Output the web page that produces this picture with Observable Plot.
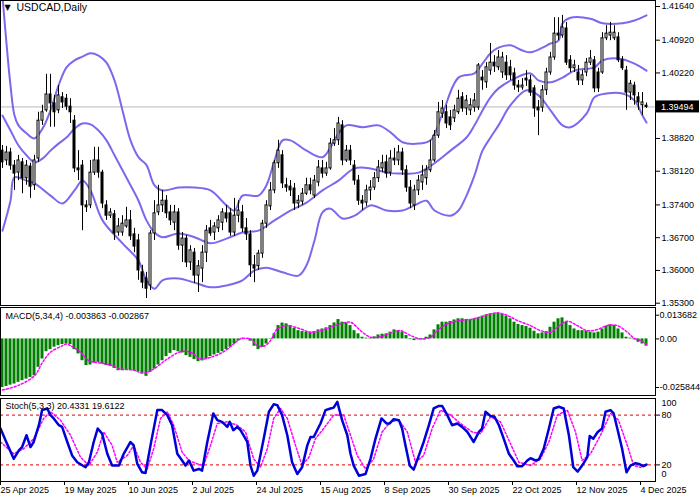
<!DOCTYPE html>
<html><head><meta charset="utf-8">
<script src="https://cdn.jsdelivr.net/npm/d3@7"></script>
<script src="https://cdn.jsdelivr.net/npm/@observablehq/plot@0.6"></script>
<style>
body{margin:0;background:#fff;}
#chart{position:relative;width:700px;height:500px;overflow:hidden;background:#fff;}
#chart svg{position:absolute;left:0;}
</style></head><body><div id="chart"></div>
<script>
// ---- price candles (daily, bar index 0 = 25 Apr 2025) ----
const open = [1.3856,1.3835,1.3852,1.3824,1.3809,1.3831,1.3797,1.3822,1.3782,1.3839,
1.3920,1.3942,1.3976,1.3957,1.3942,1.3970,1.3967,1.3950,1.3920,1.3818,
1.3824,1.3739,1.3739,1.3809,1.3835,1.3809,1.3739,1.3717,1.3720,1.3681,
1.3681,1.3694,1.3707,1.3677,1.3664,1.3596,1.3583,1.3568,1.3679,1.3724,
1.3739,1.3749,1.3724,1.3702,1.3724,1.3653,1.3668,1.3617,1.3638,1.3589,
1.3604,1.3638,1.3690,1.3681,1.3690,1.3702,1.3722,1.3722,1.3681,1.3717,
1.3724,1.3690,1.3677,1.3611,1.3609,1.3636,1.3700,1.3737,1.3771,1.3829,
1.3846,1.3782,1.3779,1.3775,1.3743,1.3747,1.3764,1.3782,1.3760,1.3788,
1.3818,1.3807,1.3818,1.3871,1.3878,1.3910,1.3835,1.3856,1.3824,1.3792,
1.3749,1.3745,1.3771,1.3777,1.3797,1.3818,1.3831,1.3809,1.3839,1.3835,
1.3852,1.3814,1.3777,1.3739,1.3771,1.3788,1.3797,1.3814,1.3835,1.3888,
1.3935,1.3938,1.3927,1.3925,1.3938,1.3970,1.3946,1.3942,1.3948,1.3948,
1.4012,1.4002,1.4027,1.4044,1.4034,1.4023,1.4044,1.4034,1.4021,1.3995,
1.3991,1.4010,1.4006,1.3989,1.3948,1.3948,1.3985,1.4023,1.4055,1.4106,
1.4102,1.4117,1.4049,1.4032,1.4023,1.4006,1.4023,1.4044,1.4049,1.4023,
1.4023,1.4096,1.4102,1.4096,1.4098,1.4049,1.4027,1.3980,1.3995,1.3970,
1.3953,1.3952];
const high = [1.3867,1.3865,1.3861,1.3835,1.3846,1.3839,1.3835,1.3829,1.3846,1.3938,
1.3953,1.4019,1.4019,1.3974,1.3995,1.3980,1.3976,1.3967,1.3931,1.3856,
1.3835,1.3749,1.3835,1.3863,1.3863,1.3814,1.3749,1.3732,1.3728,1.3711,
1.3717,1.3735,1.3728,1.3690,1.3677,1.3611,1.3596,1.3685,1.3749,1.3782,
1.3771,1.3760,1.3739,1.3739,1.3732,1.3681,1.3675,1.3653,1.3647,1.3621,
1.3653,1.3696,1.3707,1.3702,1.3717,1.3732,1.3739,1.3732,1.3754,1.3749,
1.3739,1.3711,1.3685,1.3632,1.3643,1.3707,1.3749,1.3788,1.3835,1.3878,
1.3856,1.3797,1.3792,1.3786,1.3760,1.3775,1.3797,1.3797,1.3803,1.3835,
1.3835,1.3831,1.3882,1.3903,1.3927,1.3920,1.3867,1.3867,1.3835,1.3803,
1.3760,1.3782,1.3792,1.3809,1.3835,1.3846,1.3846,1.3856,1.3861,1.3867,
1.3861,1.3824,1.3792,1.3782,1.3803,1.3824,1.3824,1.3878,1.3899,1.3959,
1.3963,1.3953,1.3942,1.3953,1.3985,1.3980,1.3974,1.3967,1.3978,1.4042,
1.4027,1.4044,1.4085,1.4059,1.4070,1.4066,1.4059,1.4049,1.4032,1.4006,
1.4010,1.4027,1.4017,1.3995,1.3963,1.3995,1.4032,1.4066,1.4140,1.4140,
1.4145,1.4130,1.4059,1.4049,1.4038,1.4027,1.4053,1.4070,1.4057,1.4032,
1.4108,1.4123,1.4130,1.4123,1.4108,1.4057,1.4036,1.4006,1.4002,1.3980,
1.3980,1.3958];
const low = [1.3818,1.3824,1.3814,1.3771,1.3792,1.3764,1.3782,1.3754,1.3771,1.3831,
1.3910,1.3938,1.3906,1.3906,1.3935,1.3946,1.3942,1.3914,1.3809,1.3792,
1.3685,1.3724,1.3732,1.3803,1.3797,1.3732,1.3707,1.3711,1.3664,1.3673,
1.3673,1.3690,1.3664,1.3638,1.3579,1.3561,1.3540,1.3557,1.3664,1.3717,
1.3724,1.3711,1.3696,1.3685,1.3643,1.3617,1.3606,1.3600,1.3572,1.3553,
1.3574,1.3617,1.3673,1.3664,1.3681,1.3685,1.3702,1.3673,1.3673,1.3702,
1.3681,1.3664,1.3585,1.3574,1.3600,1.3626,1.3690,1.3728,1.3764,1.3818,
1.3775,1.3767,1.3758,1.3728,1.3732,1.3739,1.3760,1.3762,1.3754,1.3779,
1.3797,1.3801,1.3814,1.3865,1.3867,1.3824,1.3831,1.3824,1.3782,1.3739,
1.3728,1.3737,1.3749,1.3771,1.3788,1.3809,1.3797,1.3801,1.3824,1.3824,
1.3803,1.3767,1.3732,1.3728,1.3760,1.3771,1.3782,1.3809,1.3831,1.3882,
1.3925,1.3903,1.3899,1.3916,1.3933,1.3938,1.3931,1.3931,1.3938,1.3942,
1.3985,1.3989,1.4017,1.4023,1.4027,1.4010,1.4006,1.4006,1.3985,1.3980,
1.3985,1.3993,1.3972,1.3927,1.3888,1.3938,1.3974,1.4017,1.4049,1.4091,
1.4096,1.4038,1.4023,1.4023,1.3995,1.3995,1.4014,1.4038,1.3980,1.3980,
1.4019,1.4091,1.4091,1.4091,1.4044,1.4027,1.3942,1.3963,1.3953,1.3942,
1.3931,1.3946];
const close = [1.3831,1.3852,1.3824,1.3807,1.3835,1.3797,1.3824,1.3779,1.3835,1.3920,
1.3938,1.3976,1.3957,1.3938,1.3974,1.3959,1.3950,1.3938,1.3818,1.3814,
1.3739,1.3735,1.3809,1.3835,1.3809,1.3743,1.3717,1.3724,1.3679,1.3694,
1.3700,1.3707,1.3673,1.3651,1.3600,1.3574,1.3561,1.3679,1.3722,1.3739,
1.3749,1.3722,1.3707,1.3724,1.3653,1.3668,1.3617,1.3643,1.3589,1.3609,
1.3638,1.3685,1.3679,1.3694,1.3707,1.3724,1.3711,1.3681,1.3717,1.3728,
1.3690,1.3677,1.3611,1.3604,1.3636,1.3700,1.3739,1.3771,1.3829,1.3856,
1.3786,1.3777,1.3771,1.3743,1.3749,1.3764,1.3782,1.3771,1.3792,1.3820,
1.3807,1.3818,1.3871,1.3878,1.3914,1.3835,1.3856,1.3835,1.3792,1.3749,
1.3743,1.3771,1.3777,1.3797,1.3820,1.3829,1.3807,1.3839,1.3835,1.3852,
1.3814,1.3777,1.3743,1.3771,1.3792,1.3803,1.3814,1.3835,1.3888,1.3938,
1.3946,1.3914,1.3910,1.3942,1.3967,1.3946,1.3963,1.3953,1.3963,1.4038,
1.4006,1.4034,1.4044,1.4036,1.4055,1.4055,1.4017,1.4017,1.3995,1.3991,
1.3995,1.4006,1.3980,1.3946,1.3942,1.3985,1.4023,1.4055,1.4106,1.4102,
1.4119,1.4044,1.4032,1.4038,1.4006,1.4017,1.4044,1.4053,1.3989,1.3989,
1.4096,1.4106,1.4108,1.4108,1.4049,1.4032,1.3980,1.3999,1.3974,1.3959,
1.3959,1.39494];
const lastPrice = 1.39494;

// ---- Bollinger bands, read at sampled bars ----
const upperIdx = [0,1,2,3,4,6,8,10,12,14,16,18,20,22,24,26,28,30,32,34,36,38,40,44,48,52,56,58,60,64,66,68,70,72,76,80,82,84,86,90,94,97,100,104,107,110,114,118,120,122,124,127,130,132,135,137,139,140,142,147,150,155,158,161];
const upperVal = [1.4185,1.4085,1.3995,1.3931,1.3910,1.3893,1.3882,1.3903,1.3942,1.3995,1.4034,1.4049,1.4057,1.4064,1.4059,1.4044,1.4006,1.3942,1.3878,1.3842,1.3825,1.3782,1.3771,1.3777,1.3777,1.3771,1.3739,1.3728,1.3760,1.3760,1.3782,1.3835,1.3878,1.3878,1.3856,1.3842,1.3863,1.3893,1.3910,1.3906,1.3910,1.3895,1.3874,1.3871,1.3878,1.3935,1.4012,1.4021,1.4042,1.4064,1.4076,1.4081,1.4070,1.4066,1.4076,1.4085,1.4091,1.4128,1.4140,1.4138,1.4128,1.4128,1.4134,1.4145];
const midIdx = [0,2,4,6,8,10,12,14,16,18,20,22,24,26,28,30,32,34,36,38,40,44,48,52,56,60,64,68,72,76,80,84,88,92,96,100,104,108,112,116,118,120,122,124,128,132,134,137,140,143,148,150,154,158,161];
const midVal = [1.3931,1.3899,1.3867,1.3846,1.3831,1.3839,1.3856,1.3871,1.3884,1.3903,1.3914,1.3912,1.3899,1.3878,1.3846,1.3814,1.3782,1.3749,1.3707,1.3681,1.3671,1.3679,1.3671,1.3658,1.3668,1.3681,1.3685,1.3707,1.3728,1.3745,1.3771,1.3792,1.3818,1.3818,1.3809,1.3807,1.3809,1.3829,1.3856,1.3884,1.3910,1.3942,1.3970,1.3989,1.4010,1.4021,1.4006,1.4002,1.4012,1.4027,1.4034,1.4049,1.4053,1.4042,1.4027];
const lowerIdx = [0,2,3,6,8,12,15,18,20,22,25,30,34,36,38,40,44,48,52,56,60,63,66,70,74,76,78,80,82,85,88,92,96,100,103,106,108,112,114,116,118,120,122,124,127,131,134,137,140,142,146,148,151,155,158,160,161];
const lowerVal = [1.3685,1.3749,1.3799,1.3792,1.3786,1.3760,1.3743,1.3771,1.3792,1.3771,1.3707,1.3658,1.3621,1.3579,1.3561,1.3579,1.3583,1.3574,1.3564,1.3568,1.3579,1.3600,1.3606,1.3596,1.3589,1.3611,1.3664,1.3724,1.3732,1.3711,1.3717,1.3739,1.3728,1.3728,1.3739,1.3749,1.3728,1.3717,1.3728,1.3760,1.3803,1.3856,1.3884,1.3910,1.3953,1.3985,1.3974,1.3942,1.3910,1.3906,1.3935,1.3970,1.3978,1.3978,1.3963,1.3931,1.3916];

// ---- MACD(5,34,4) histogram per bar, signal line sampled ----
const macdHist = [-0.025844,-0.0253,-0.0246,-0.0240,-0.0231,-0.0222,-0.0214,-0.0205,-0.0196,-0.0151,
-0.0107,-0.0068,-0.0057,-0.0044,-0.0036,-0.0030,-0.0027,-0.0030,-0.0057,-0.0080,
-0.0116,-0.0142,-0.0139,-0.0128,-0.0125,-0.0133,-0.0142,-0.0146,-0.0157,-0.0169,
-0.0169,-0.0166,-0.0166,-0.0169,-0.0174,-0.0183,-0.0199,-0.0178,-0.0160,-0.0139,
-0.0116,-0.0094,-0.0077,-0.0062,-0.0068,-0.0075,-0.0089,-0.0098,-0.0110,-0.0121,
-0.0117,-0.0107,-0.0094,-0.0085,-0.0077,-0.0068,-0.0057,-0.0044,-0.0027,-0.0011,
0.0004,-0.0002,-0.0012,-0.0039,-0.0057,-0.0044,-0.0027,-0.0002,0.0027,0.0071,
0.0084,0.0080,0.0071,0.0057,0.0044,0.0039,0.0036,0.0036,0.0039,0.0048,
0.0053,0.0059,0.0071,0.0085,0.0103,0.0089,0.0085,0.0071,0.0044,0.0027,
0.0009,0.0004,0.0004,0.0011,0.0021,0.0025,0.0027,0.0036,0.0048,0.0044,
0.0036,0.0018,-0.0004,-0.0009,-0.0005,-0.0004,0.0009,0.0021,0.0048,0.0075,
0.0089,0.0089,0.0093,0.0101,0.0107,0.0107,0.0103,0.0101,0.0107,0.0112,
0.0121,0.0128,0.0133,0.0135,0.013682,0.0130,0.0121,0.0107,0.0089,0.0077,
0.0071,0.0066,0.0057,0.0041,0.0027,0.0032,0.0039,0.0062,0.0089,0.0107,
0.0112,0.0089,0.0071,0.0053,0.0044,0.0044,0.0041,0.0036,0.0032,0.0036,
0.0053,0.0068,0.0075,0.0071,0.0053,0.0032,0.0009,0.0004,-0.0005,-0.0018,
-0.0027,-0.003863];
const macdSigIdx = [0,4,8,10,12,15,16,17,19.5,21.6,24.5,27,29.5,32.8,35.3,37.8,41.2,44.5,47,49.5,52,55.3,57.8,59.5,62,63.7,65.3,67,68.7,71.2,74.5,77,79.5,82,84.5,87,89.5,92,94.5,97,99.5,102,104.5,107,108.7,111.2,114.5,117.8,122,123.7,126.2,128.7,132,134.5,137,138.7,141.2,143.7,146.2,148.7,151.2,153.7,156.2,157.8,159.5,161];
const macdSig = [-0.0272,-0.0247,-0.0196,-0.0125,-0.0071,-0.0036,-0.0027,-0.0036,-0.0071,-0.0116,-0.0128,-0.0139,-0.0160,-0.0166,-0.0183,-0.0160,-0.0107,-0.0068,-0.0071,-0.0107,-0.0098,-0.0068,-0.0027,0,0,-0.0036,-0.0039,-0.0009,0.0053,0.0071,0.0053,0.0036,0.0044,0.0062,0.0080,0.0089,0.0044,0.0009,0.0012,0.0032,0.0044,0.0018,0,0.0009,0.0044,0.0080,0.0098,0.0107,0.0133,0.0139,0.0125,0.0098,0.0071,0.0044,0.0036,0.0062,0.0094,0.0071,0.0044,0.0050,0.0071,0.0071,0.0036,0.0005,-0.0009,-0.002867];

// ---- Stochastic(5,3,3) %K and %D ----
const stochKIdx = [-0.5,0.75,2.8,4.1,4.9,6,7,7.8,9.1,9.9,11.2,12,12.8,14.1,14.9,16.2,17.4,18.7,20.75,21.6,22.8,23.8,24.9,26.2,27.4,29.1,30.3,32,32.8,33.7,34.9,35.75,37,38.7,39.9,41.2,42.4,43.7,44.9,45.75,46.6,47.8,49.1,49.9,51.2,52.7,53.7,54.9,56.2,56.8,57.7,58.7,59.5,61.2,62,62.8,63.7,65.3,66.6,67.8,68.7,69.9,71.2,72.4,73.7,74.9,76.2,77,77.8,79.5,80.75,82,82.8,83.7,84.9,86.2,87,87.8,89.1,90.75,92,93.25,94.75,96,96.8,97.8,99.1,99.9,100.75,101.8,102.8,104.1,105.3,106.6,107.8,109.1,109.9,111.2,112.4,113.7,114.9,116.2,117.8,119.1,119.9,120.75,122,123,124.1,125.3,126.6,127.8,128.7,129.9,131.2,132,133.25,134.1,135.3,136.6,137.8,139.1,140.3,141.6,142.7,143.8,144.9,146.2,146.8,147.7,148.8,149.9,150.75,152,152.8,153.7,154.9,156,157,158.25,159.1,160.2,161];
const stochK = [63.8,49.6,27.3,37.4,41.5,55.7,41.5,47.6,67.8,86,88,80,76,67.8,65.8,47.6,31.4,23.2,17.2,23.2,47.6,63.8,57.7,33.4,19.2,19.2,33.4,47.6,43.5,21.2,11.1,10.3,43.5,86,86,80,67.8,33.4,25.3,19.2,25.3,13.1,15.1,13.1,47.6,82,73.9,71.9,65.8,71.9,61.8,65.8,61.8,47.6,19.2,7,13.1,51.6,84,93,92,80,55.7,23.2,9,17.2,43.5,53.6,53.6,69.9,86,88,89,96,73.9,55.7,33.4,19.2,7,9,27.3,51.6,76,69.9,69.9,75.1,73.9,63.8,43.5,19.2,14.3,31.4,47.6,67.8,88,91,91,80,67.8,69.9,65.8,59.7,47.6,59.7,63.8,84,79,78,67.8,51.6,33.4,25.3,18.4,18.4,25.3,28.1,25.3,26.5,39.5,63.8,88,90,88,55.7,17.2,11.9,19.2,29.3,54.9,51.6,59.7,63.8,84,86,82,63.8,39.5,11.1,19.2,22,21.2,18.4,20.4331];
const stochDIdx = [-0.5,2.8,5.3,7.8,10.3,12,14.5,17,19.5,21.6,23.7,25.3,27.4,28.7,31.2,32.8,34.5,36.2,37.8,39.5,41.2,42.8,44.9,46.6,48.7,50.3,52,53.7,56.2,58.7,60.75,62.8,64.5,66.2,67.8,69.5,71.2,73.25,74.9,76.6,78.25,80.3,82.8,85.3,87,88.7,90.75,92.8,94.9,97,99.1,101.2,103.25,105.3,107.4,109.5,112,114.5,117.4,119.5,122,124.5,127,129.1,132,134.5,136.6,138.7,141.2,143.25,144.9,147,149.5,152,154,156.2,157.8,159.5,161];
const stochD = [47.6,33.4,39.5,51.6,76,84,73.9,55.7,29.3,19.2,35.4,59.7,43.5,23.2,31.4,43.5,23.2,15.1,39.5,76,84,67.8,35.4,25.3,21.2,19.2,43.5,69.9,71.9,67.8,59.7,27.3,17.2,39.5,76,88,76,43.5,19.2,29.3,51.6,63.8,80,80,55.7,31.4,15.1,27.3,59.7,71.9,73.9,59.7,23.2,31.4,63.8,86,80,69.9,59.7,57.7,77.9,71.9,45.5,23.2,19.2,27.3,47.6,80,86,59.7,25.3,33.4,55.7,82,73.9,43.5,19.2,17.2,19.6122];

// ---- axis labels ----
const priceTicks = [1.41640,1.40920,1.40220,1.38820,1.38120,1.37400,1.36700,1.36000,1.35300];
const macdTop = 0.013682, macdZero = 0, macdBottom = -0.025844;
const dateIdx = [0,16,32,48,64,80,96,112,128,144,160];
const dateLabels = ["25 Apr 2025","19 May 2025","10 Jun 2025","2 Jul 2025","24 Jul 2025","15 Aug 2025","8 Sep 2025","30 Sep 2025","22 Oct 2025","12 Nov 2025","4 Dec 2025"];

// ---------------------------------------------------------------
const bars = close.map((c, i) => ({i, o: open[i], h: high[i], l: low[i], c}));
const macdBars = macdHist.map((v, i) => ({i, v}));
const bandColor = "#7b68ee";
const style = "font-family:'Liberation Sans',Arial,sans-serif;font-size:9px;color:#000;background:transparent;overflow:visible;";
const xOpt = {type: "linear", domain: [-0.5, 163.25], axis: null, label: null};
const macdFmt = d => d === 0 ? "0.00" : d.toFixed(6);

const main = Plot.plot({
  width: 700, height: 306, marginTop: 0, marginBottom: 1, marginLeft: 0, marginRight: 45,
  style, x: xOpt,
  y: {domain: [1.35251, 1.41768], axis: null, label: null},
  marks: [
    Plot.ruleY([lastPrice], {stroke: "#b8b8b8"}),
    Plot.line(upperVal, {x: (d, k) => upperIdx[k], y: d => d, stroke: bandColor, strokeWidth: 2, curve: "catmull-rom", clip: true}),
    Plot.line(midVal, {x: (d, k) => midIdx[k], y: d => d, stroke: bandColor, strokeWidth: 2, curve: "catmull-rom", clip: true}),
    Plot.line(lowerVal, {x: (d, k) => lowerIdx[k], y: d => d, stroke: bandColor, strokeWidth: 2, curve: "catmull-rom", clip: true}),
    Plot.ruleX(bars, {x: "i", y1: "l", y2: "h", stroke: "#000"}),
    Plot.rect(bars, {x1: d => d.i - 0.25, x2: d => d.i + 0.25, y1: "o", y2: "c",
      fill: d => d.c < d.o ? "#000" : "#fff", stroke: "#000"}),
    Plot.frame({stroke: "#000"}),
    Plot.axisY(priceTicks, {anchor: "right", label: null, tickSize: 4, tickPadding: 2, tickFormat: d => d.toFixed(5)}),
    Plot.text(["\u25BC"], {frameAnchor: "top-left", dx: 4, dy: 4, lineAnchor: "top", textAnchor: "start", fontSize: 8, fontFamily: "DejaVu Sans"}),
    Plot.text(["USDCAD,Daily"], {frameAnchor: "top-left", dx: 16, dy: 3, lineAnchor: "top", textAnchor: "start", fontSize: 10.5})
  ]
});

const macdPlot = Plot.plot({
  width: 700, height: 90, marginTop: 1, marginBottom: 1, marginLeft: 0, marginRight: 45,
  style, x: xOpt,
  y: {domain: [macdBottom, macdTop], range: [81, 6.7], axis: null, label: null},
  marks: [
    Plot.rect(macdBars, {x1: d => d.i - 0.375, x2: d => d.i + 0.375, y1: 0, y2: "v", fill: "#008000"}),
    Plot.line(macdSig, {x: (d, k) => macdSigIdx[k], y: d => d, stroke: "#ff00ff", strokeDasharray: "2,2", curve: "catmull-rom", clip: true}),
    Plot.frame({stroke: "#000"}),
    Plot.axisY([macdTop], {anchor: "right", label: null, tickSize: 3, tickPadding: 1, dy: 2, tickFormat: macdFmt}),
    Plot.axisY([macdZero, macdBottom], {anchor: "right", label: null, tickSize: 3, tickPadding: 1, tickFormat: macdFmt}),
    Plot.text(["MACD(5,34,4) -0.003863 -0.002867"], {frameAnchor: "top-left", dx: 5, dy: 5, lineAnchor: "top", textAnchor: "start"})
  ]
});

const stochPlot = Plot.plot({
  width: 700, height: 103, marginTop: 1, marginBottom: 19, marginLeft: 0, marginRight: 45,
  style, x: xOpt,
  y: {domain: [0, 100], axis: null, label: null},
  marks: [
    Plot.ruleY([80, 20], {stroke: "#e00000", strokeDasharray: "3,3"}),
    Plot.line(stochD, {x: (d, k) => stochDIdx[k], y: d => d, stroke: "#ff00ff", strokeDasharray: "2,2", clip: true}),
    Plot.line(stochK, {x: (d, k) => stochKIdx[k], y: d => d, stroke: "#0000d8", strokeWidth: 2.5, clip: true}),
    Plot.frame({stroke: "#000"}),
    Plot.axisY([80, 20], {anchor: "right", label: null, tickSize: 4, tickPadding: 2}),
    Plot.axisY([100], {anchor: "right", label: null, tickSize: 0, tickPadding: 6, dy: 5}),
    Plot.axisY([0], {anchor: "right", label: null, tickSize: 0, tickPadding: 6, dy: -7}),
    Plot.axisX(dateIdx, {anchor: "bottom", label: null, tickSize: 4, tickPadding: 1, textAnchor: "start", dx: -2,
      tickFormat: d => dateLabels[dateIdx.indexOf(d)]}),
    Plot.text(["Stoch(5,3,3) 20.4331 19.6122"], {frameAnchor: "top-left", dx: 5, dy: 4, lineAnchor: "top", textAnchor: "start"})
  ]
});

// current-price box on the price axis, placed through the plot's own y scale
const yPrice = main.scale("y").apply(lastPrice);
const g = d3.select(main).append("g");
g.append("rect").attr("x", 656).attr("y", yPrice - 6).attr("width", 43).attr("height", 12).attr("fill", "#000");
g.append("text").attr("x", 661).attr("y", yPrice).attr("dy", "0.35em").attr("fill", "#fff")
  .attr("text-anchor", "start").attr("font-size", 9).text(lastPrice.toFixed(5));

const root = document.getElementById("chart");
[[main, 0], [macdPlot, 306], [stochPlot, 397]].forEach(([svg, top]) => {
  svg.style.top = top + "px";
  root.appendChild(svg);
});
</script></body></html>
